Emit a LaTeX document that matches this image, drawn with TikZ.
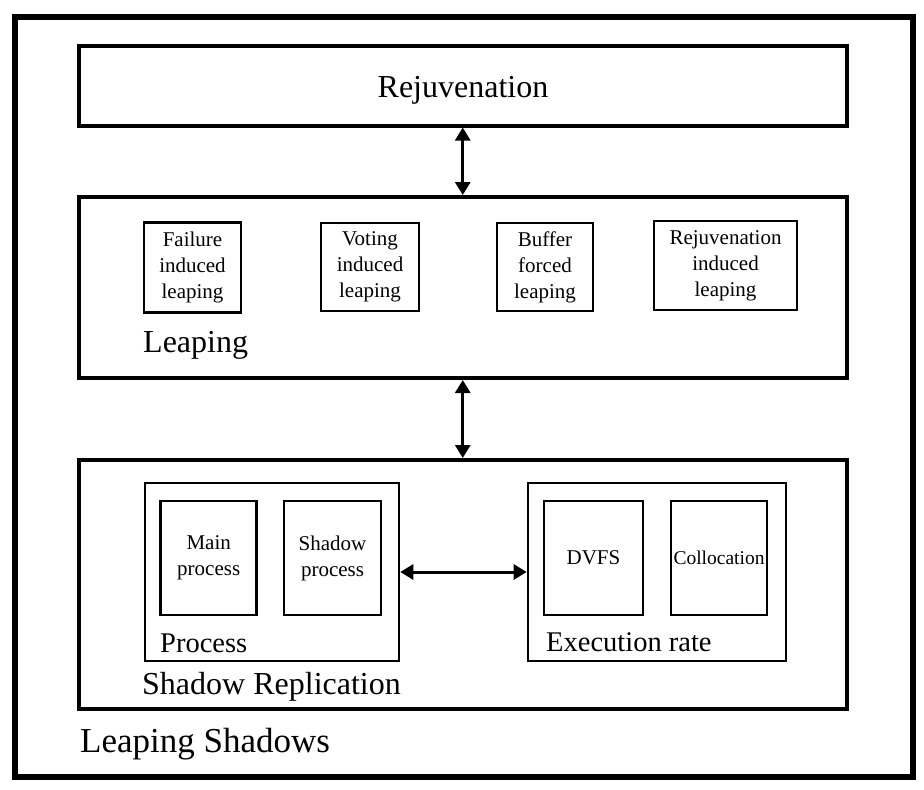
\documentclass[tikz,border=0pt]{standalone}
\usepackage{fontspec}
\setmainfont{Liberation Serif}
\usetikzlibrary{arrows.meta}
\begin{document}
\begin{tikzpicture}[x=1pt,y=-1pt,
  outerbox/.style={draw, line width=6pt, inner sep=0pt},
  bigbox/.style={draw, line width=4pt, inner sep=0pt},
  midbox/.style={draw, line width=2.6pt, inner sep=0pt},
  smallbox/.style={draw, line width=2.6pt, inner sep=0pt, align=center,
    font=\fontsize{21}{26}\selectfont},
  lbl/.style={anchor=base west, inner sep=0pt, font=\fontsize{32}{38}\selectfont},
  sublbl/.style={anchor=base west, inner sep=0pt, font=\fontsize{28.5}{34}\selectfont},
  conn/.style={line width=3pt, {Triangle[width=15pt,length=13pt]}-{Triangle[width=15pt,length=13pt]}}
]
\fill[white] (0,0) rectangle (924,790);
\useasboundingbox (0,0) rectangle (924,790);

\node[outerbox, minimum width=898.5pt, minimum height=759.5pt] (outer) at (463.75,396.75) {};

\node[bigbox, minimum width=768.5pt, minimum height=79.5pt] (rej) at (462.75,85.75) {};
\node[anchor=base, inner sep=0pt, font=\fontsize{32}{38}\selectfont] (rejtxt) at (463,97) {Rejuvenation};

\node[bigbox, minimum width=768.5pt, minimum height=181pt] (leap) at (462.75,287.5) {};
\node[smallbox, minimum width=97pt, minimum height=90pt] (f1) at (192.5,267.5) {Failure\\induced\\leaping};
\node[smallbox, minimum width=98pt, minimum height=88pt] (f2) at (370,267) {Voting\\induced\\leaping};
\node[smallbox, minimum width=96pt, minimum height=88pt] (f3) at (545,267) {Buffer\\forced\\leaping};
\node[smallbox, minimum width=143pt, minimum height=89pt] (f4) at (725.5,265.5) {Rejuvenation\\induced\\leaping};
\node[lbl] (leaptxt) at (143,352) {Leaping};

\node[bigbox, minimum width=768.5pt, minimum height=249pt] (shadow) at (462.75,584.5) {};
\node[midbox, minimum width=254pt, minimum height=178pt] (proc) at (272,572) {};
\node[midbox, minimum width=258pt, minimum height=178pt] (exec) at (657,572) {};
\node[smallbox, minimum width=96pt, minimum height=114pt] (mainp) at (208.7,558) {Main\\process};
\node[smallbox, minimum width=97pt, minimum height=114pt] (shp) at (332.5,558) {Shadow\\process};
\node[smallbox, minimum width=99pt, minimum height=114pt] (dvfs) at (593.5,558) {DVFS};
\node[smallbox, minimum width=96pt, minimum height=114pt, font=\fontsize{19.5}{24}\selectfont] (coll) at (719,558) {Collocation};
\node[sublbl] (proctxt) at (160,652) {Process};
\node[sublbl] (exectxt) at (546,651) {Execution rate};
\node[lbl] (shtxt) at (142,694) {Shadow Replication};
\node[anchor=base west, inner sep=0pt, font=\fontsize{35}{42}\selectfont] (lstxt) at (80,752) {Leaping Shadows};

\draw[conn] (rej.south) -- (leap.north);
\draw[conn] (leap.south) -- (shadow.north);
\draw[conn] (proc.east) -- (exec.west);
\end{tikzpicture}
\end{document}
